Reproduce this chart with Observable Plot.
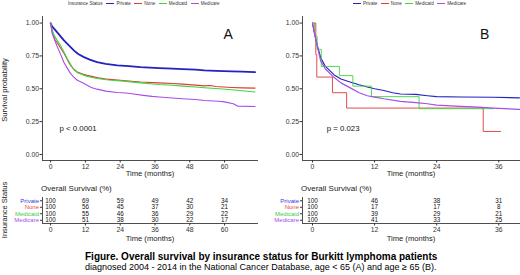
<!DOCTYPE html>
<html><head><meta charset="utf-8">
<script src="https://cdn.jsdelivr.net/npm/d3@7"></script>
<script src="https://cdn.jsdelivr.net/npm/@observablehq/plot@0.6"></script>
<style>
body{margin:0;background:#fff;}
#root{position:relative;width:520px;height:275px;overflow:hidden;font-family:"Liberation Sans",Arial,sans-serif;color:#222;background:#fff;}
.abs{position:absolute;white-space:nowrap;line-height:1;}
.legend{display:flex;align-items:center;font-size:4.6px;color:#333;}
.sw{display:inline-block;width:8px;height:0;border-top:0.9px solid;margin-right:2px;}
.it{margin-right:3.5px;}
</style></head><body><div id="root"></div><script>
// ---- categories & styling lists ----
const groups = ["Private", "None", "Medicaid", "Medicare"];
const lineColors = ["#2222c0", "#e03a3a", "#3ad83a", "#a64ee6"];
const labelColors = ["#3434dc", "#ee4a4a", "#3ccc3c", "#a84cee"];

// ---- Panel A (age < 65): survival curves [months, probability] ----
const privateA = [[0,1],[0.5,0.975],[1.7,0.944],[3,0.91],[4.6,0.868],[6.3,0.83],[8,0.792],[9.5,0.765],[11.5,0.741],[13.5,0.722],[16,0.703],[19,0.69],[23,0.678],[27,0.672],[31,0.665],[37.5,0.657],[42,0.653],[45.5,0.65],[50,0.645],[53,0.64],[57,0.636],[62.5,0.632],[66,0.63],[70.5,0.626]];
const noneA = [[0,1],[0.5,0.93],[1.5,0.875],[3,0.825],[4.6,0.77],[5.8,0.72],[6.9,0.678],[8,0.65],[9.2,0.628],[11,0.612],[12.6,0.602],[16,0.585],[19.5,0.573],[25,0.563],[31,0.552],[37.5,0.545],[42,0.54],[45.5,0.535],[50,0.528],[53,0.522],[55,0.525],[57,0.517],[62.5,0.51],[66,0.507],[70.5,0.505]];
const medicaidA = [[0,1],[0.4,0.96],[1.1,0.91],[2.2,0.87],[3.4,0.83],[4.6,0.78],[5.7,0.73],[6.9,0.685],[8,0.645],[9.5,0.62],[11.5,0.602],[13.5,0.59],[16,0.578],[20,0.567],[25,0.558],[31,0.545],[37.5,0.533],[42,0.527],[45.5,0.52],[50,0.513],[53,0.508],[57,0.502],[62.5,0.492],[66,0.485],[70.5,0.475]];
const medicareA = [[0,1],[0.6,0.92],[1.4,0.87],[2.3,0.82],[3.5,0.76],[4.6,0.70],[5.8,0.655],[6.9,0.615],[8,0.588],[9.2,0.565],[11,0.545],[12.6,0.527],[14,0.51],[16,0.497],[19,0.482],[23,0.472],[26,0.468],[28,0.462],[32,0.45],[35,0.442],[37.5,0.437],[42,0.43],[45.5,0.424],[50,0.418],[53,0.411],[58,0.405],[60,0.4],[63,0.386],[64.5,0.368],[70.5,0.365]];

// ---- Panel B (age >= 65) ----
const privateB = [[0,1],[0.5,0.9],[1,0.82],[1.6,0.735],[2.5,0.67],[4.2,0.605],[5.5,0.575],[7.4,0.55],[9,0.53],[10.6,0.513],[12,0.5],[13.8,0.487],[15.5,0.47],[17,0.46],[20,0.457],[22.2,0.447],[24,0.44],[28.6,0.437],[35,0.435],[40,0.431]];
const noneB = [[0,1],[0.64,0.76],[0.83,0.589],[3.86,0.47],[6.6,0.353],[33,0.175],[36.4,0.175]];
const medicaidB = [[0,1],[0.4,0.9],[0.9,0.8],[1.7,0.67],[5.2,0.6],[7.8,0.52],[11.4,0.44],[20.6,0.348],[35,0.348]];
const medicareB = [[0,1],[0.5,0.9],[1,0.81],[1.6,0.71],[2.5,0.65],[4.2,0.585],[5.5,0.545],[7.4,0.505],[9,0.47],[10.6,0.447],[12,0.437],[13.8,0.424],[17,0.404],[20,0.395],[22.2,0.386],[24,0.376],[28.6,0.366],[32,0.36],[35,0.352],[40,0.343]];

// ---- risk tables: overall survival (%) ----
const tableTimesA = [0, 12, 24, 36, 48, 60];
const tablePrivateA = [100, 69, 59, 49, 42, 34];
const tableNoneA = [100, 56, 45, 37, 30, 21];
const tableMedicaidA = [100, 55, 46, 36, 29, 22];
const tableMedicareA = [100, 51, 38, 30, 22, 17];
const tableTimesB = [0, 12, 24, 36];
const tablePrivateB = [100, 46, 38, 31];
const tableNoneB = [100, 17, 17, 8];
const tableMedicaidB = [100, 39, 29, 21];
const tableMedicareB = [100, 41, 33, 25];

// ---- axes ----
const xTicksA = [0, 12, 24, 36, 48, 60];
const xTicksB = [0, 12, 24, 36];
const yTicks = [0, 0.25, 0.5, 0.75, 1];
const xDomainA = [-2.8, 71.7];
const xDomainB = [-1.93, 40.2];
const yDomain = [-0.046, 1.05];
const tableYDomain = [3.5, -0.5];

// ---- annotations ----
const annotA = [{t: 61.2, s: 0.915, text: "A", size: 14}, {t: 3.1, s: 0.198, text: "p < 0.0001", size: 7.8, anchor: "start"}];
const annotB = [{t: 33.3, s: 0.915, text: "B", size: 14}, {t: 2.76, s: 0.198, text: "p = 0.023", size: 7.8, anchor: "start"}];

const FONT = '"Liberation Sans", Arial, sans-serif';
const root = document.getElementById("root");

function put(el, left, top) {
  const d = document.createElement("div");
  d.className = "abs"; d.style.left = left + "px"; d.style.top = top + "px";
  d.appendChild(el); root.appendChild(d); return d;
}
function txt(s, left, top, size, extra = {}) {
  const d = document.createElement("div");
  d.className = "abs"; d.textContent = s;
  d.style.left = left + "px"; d.style.top = top + "px"; d.style.fontSize = size + "px";
  Object.assign(d.style, extra);
  root.appendChild(d); return d;
}
function rotTxt(s, cx, cy, size) {
  return txt(s, cx, cy, size, {transform: "translate(-50%,-50%) rotate(-90deg)", color: "#222"});
}

function survPanel(series, xDomain, xTicks, annot, marginRight, widths, curves) {
  const marks = [
    Plot.ruleX([xDomain[0]], {stroke: "#222", strokeWidth: 0.8}),
    Plot.ruleY([yDomain[0]], {stroke: "#222", strokeWidth: 0.8}),
    Plot.axisX({ticks: xTicks, tickSize: 2.5, tickPadding: 1.5, label: null, color: "#333", fontSize: 6.8}),
    Plot.axisY({ticks: yTicks, tickFormat: d3.format(".2f"), tickSize: 2.5, tickPadding: 1, label: null, color: "#333", fontSize: 6.8})
  ];
  groups.forEach((g, i) => {
    const data = series[i].map(([t, s]) => ({t, s}));
    marks.push(Plot.line(data, {x: "t", y: "s", stroke: lineColors[i], strokeWidth: widths[i], curve: curves[i]}));
  });
  annot.forEach(a => marks.push(Plot.text([a], {x: "t", y: "s", text: "text", fontSize: a.size, textAnchor: a.anchor || "middle", fill: "#111"})));
  return Plot.plot({
    width: 260, height: 180, marginLeft: 42, marginRight, marginTop: 16, marginBottom: 20,
    style: {fontFamily: FONT, fontSize: "6.8px", color: "#333", background: "transparent", overflow: "visible"},
    x: {domain: xDomain}, y: {domain: yDomain},
    marks
  });
}

function tablePanel(values, times, xDomain, xTicks, marginRight) {
  const cells = groups.flatMap((g, i) => values[i].map((v, j) => ({row: i, t: times[j], v})));
  return Plot.plot({
    width: 260, height: 62, marginLeft: 42, marginRight, marginTop: 14, marginBottom: 22,
    style: {fontFamily: FONT, fontSize: "6.8px", color: "#333", background: "transparent", overflow: "visible"},
    x: {domain: xDomain}, y: {domain: tableYDomain},
    color: {domain: groups, range: labelColors},
    marks: [
      Plot.ruleX([xDomain[0]], {stroke: "#222", strokeWidth: 0.8}),
      Plot.ruleY([tableYDomain[0]], {stroke: "#222", strokeWidth: 0.8}),
      Plot.axisX({ticks: xTicks, tickSize: 2.5, tickPadding: 1.5, label: null, color: "#333", fontSize: 6.8}),
      Plot.axisY({ticks: [0, 1, 2, 3], tickFormat: () => "", tickSize: 2, label: null, color: "#333"}),
      Plot.text(groups, {frameAnchor: "left", y: (d, i) => i, text: d => d, fill: d => d, dx: -3.5, textAnchor: "end", fontSize: 6}),
      Plot.text(cells, {x: "t", y: "row", text: "v", fontSize: 6.3, fill: "#111"})
    ]
  });
}

function legend(left, withTitle) {
  const d = document.createElement("div");
  d.className = "legend";
  if (withTitle) { const s = document.createElement("span"); s.textContent = "Insurance Status"; s.style.marginRight = "4px"; d.appendChild(s); }
  groups.forEach((g, i) => {
    const sw = document.createElement("span"); sw.className = "sw"; sw.style.borderTopColor = lineColors[i];
    const t = document.createElement("span"); t.className = "it"; t.textContent = g;
    d.appendChild(sw); d.appendChild(t);
  });
  put(d, left, 1.6);
}

// panels
put(survPanel([privateA, noneA, medicaidA, medicareA], xDomainA, xTicksA, annotA, 2,
  [1.8, 1.1, 1.1, 1.1], ["linear", "linear", "linear", "linear"]), 0, 0);
put(survPanel([privateB, noneB, medicaidB, medicareB], xDomainB, xTicksB, annotB, 0,
  [1.1, 0.9, 0.9, 1.2], ["linear", "step-after", "step-after", "linear"]), 260, 0);
legend(68, true);
legend(353, false);

rotTxt("Survival probability", 5, 90, 7.6);
txt("Time (months)", 42, 170.2, 7.6, {width: "216px", textAlign: "center"});
txt("Time (months)", 302, 170.2, 7.6, {width: "218px", textAlign: "center"});

// tables
put(tablePanel([tablePrivateA, tableNoneA, tableMedicaidA, tableMedicareA], tableTimesA, xDomainA, xTicksA, 2), 0, 183);
put(tablePanel([tablePrivateB, tableNoneB, tableMedicaidB, tableMedicareB], tableTimesB, xDomainB, xTicksB, 0), 260, 183);
txt("Overall Survival (%)", 41, 184.5, 8);
txt("Overall Survival (%)", 301, 184.5, 8);
rotTxt("Insurance Status", 5, 210, 7.5);
txt("Time (months)", 42, 234.7, 7.6, {width: "216px", textAlign: "center"});
txt("Time (months)", 302, 234.7, 7.6, {width: "218px", textAlign: "center"});

// caption
txt("Figure. Overall survival by insurance status for Burkitt lymphoma patients", 85, 251.5, 10, {fontWeight: "bold", color: "#000"});
txt("diagnosed 2004 - 2014 in the National Cancer Database, age < 65 (A) and age \u2265 65 (B).", 85, 263, 9, {color: "#000"});
</script></body></html>
